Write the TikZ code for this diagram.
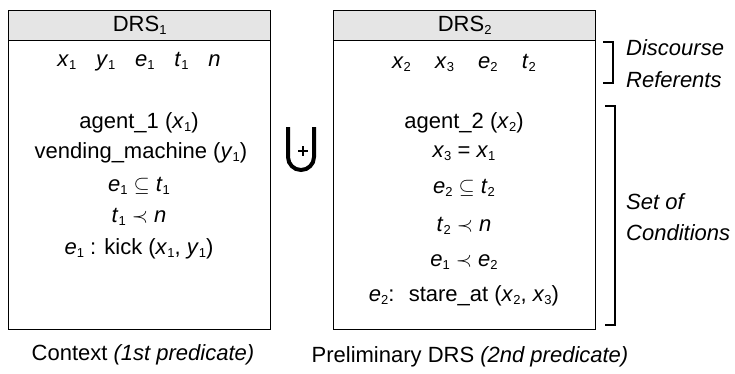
\documentclass[tikz,border=0pt]{standalone}
\usepackage{fontspec}
\setmainfont{Liberation Sans}
\usepackage{amssymb}
\usetikzlibrary{positioning}

\newcommand{\sv}[2]{\textit{#1}\raisebox{-0.25ex}{\fontsize{13}{15}\selectfont #2}}

\begin{document}
\begin{tikzpicture}[x=1pt,y=-1pt,
  every node/.style={font=\fontsize{22}{26}\selectfont, inner sep=1pt},
  drsframe/.style={draw, line width=1.3pt, minimum width=262pt, minimum height=319pt, anchor=north west},
  drshead/.style={draw, line width=1.3pt, fill=gray!20, minimum width=262pt, minimum height=30pt, anchor=north},
  sidelabel/.style={font=\fontsize{22}{26}\selectfont\itshape, anchor=west, align=left}]
  \useasboundingbox (0,0) rectangle (735,373);

  % left box: context
  \node[drsframe] (box1) at (8,10) {};
  \node[drshead] (head1) at (box1.north) {DRS\raisebox{-0.25ex}{\fontsize{13}{15}\selectfont 1}};
  \node (ref1) at (139,62) {\sv{x}{1}\hspace{0.9em}\sv{y}{1}\hspace{0.9em}\sv{e}{1}\hspace{0.9em}\sv{t}{1}\hspace{0.9em}\textit{n}};
  \node (agent1) at (139,123) {agent\_1 (\sv{x}{1})};
  \node (vend) at (141,153) {vending\_machine (\sv{y}{1})};
  \node (incl1) at (139,186) {\sv{e}{1} $\subseteq$ \sv{t}{1}};
  \node (prec1) at (139,217) {\sv{t}{1} $\prec$ \textit{n}};
  \node (kick) at (139,249) {\sv{e}{1} : kick (\sv{x}{1}, \sv{y}{1})};
  \node (cap1) at (143,355) {Context \textit{(1st predicate)}};

  % union with plus
  \draw[line width=4pt] (288,127) -- (288,157) arc[start angle=180, end angle=0, radius=13] -- (314,127);
  \draw[line width=1.3pt] (298,151) -- (308,151) (303,146) -- (303,156);

  % right box: preliminary DRS
  \node[drsframe] (box2) at (333,10) {};
  \node[drshead] (head2) at (box2.north) {DRS\raisebox{-0.25ex}{\fontsize{13}{15}\selectfont 2}};
  \node (ref2) at (464,63) {\sv{x}{2}\hspace{1.1em}\sv{x}{3}\hspace{1.1em}\sv{e}{2}\hspace{1.1em}\sv{t}{2}};
  \node (agent2) at (464,123) {agent\_2 (\sv{x}{2})};
  \node (eq) at (464,153) {\sv{x}{3} = \sv{x}{1}};
  \node (incl2) at (464,188) {\sv{e}{2} $\subseteq$ \sv{t}{2}};
  \node (prec2) at (464,226) {\sv{t}{2} $\prec$ \textit{n}};
  \node (prec3) at (464,262) {\sv{e}{1} $\prec$ \sv{e}{2}};
  \node (stare) at (464,296) {\sv{e}{2}:\; stare\_at (\sv{x}{2}, \sv{x}{3})};
  \node (cap2) at (470,357) {Preliminary DRS \textit{(2nd predicate)}};

  % brackets on the right
  \draw[line width=1.2pt] (603,42) -- (613,42) -- (613,83) -- (603,83);
  \draw[line width=1.2pt] (605,106) -- (615,106) -- (615,325) -- (605,325);
  \node[sidelabel] (disc) at (625,48) {Discourse};
  \node[sidelabel] (refs) at (625,80) {Referents};
  \node[sidelabel] (setof) at (625,202) {Set of};
  \node[sidelabel] (conds) at (625,233) {Conditions};
\end{tikzpicture}
\end{document}
